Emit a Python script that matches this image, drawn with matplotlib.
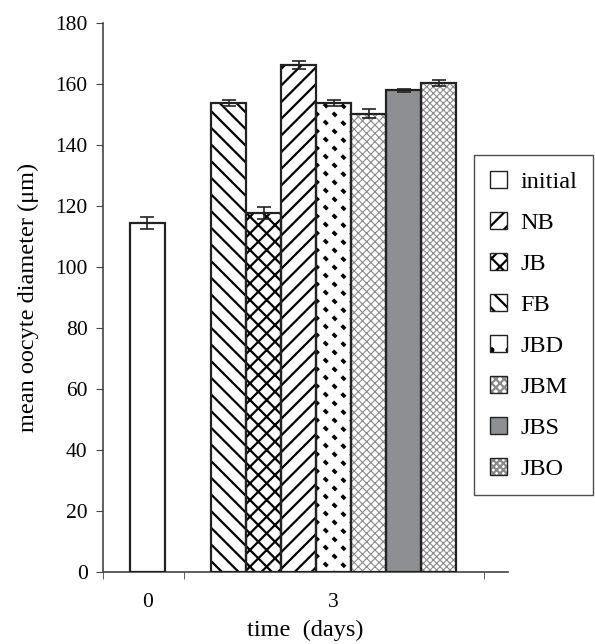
import matplotlib
matplotlib.use("Agg")
from matplotlib import pyplot as plt
from matplotlib.patches import Patch
import numpy as np

plt.rcParams['font.family'] = ['Liberation Serif', 'DejaVu Serif']
plt.rcParams['hatch.linewidth'] = 1.6
plt.rcParams['lines.scale_dashes'] = False

# data
labels = ['initial', 'NB', 'JB', 'FB', 'JBD', 'JBM', 'JBS', 'JBO']
days = ['0', '3', '3', '3', '3', '3', '3', '3']
means = [114.5, 153.9, 117.8, 166.2, 153.9, 150.3, 157.9, 160.2]
errors = [2.0, 1.0, 2.0, 1.4, 1.0, 1.4, 0.6, 1.0]
day_labels = ['0', '3']

# styles
bar_hatch = ['', '\\\\', 'xx', '//', '', 'xxxx', '', 'xxxxx']
leg_hatch = ['', '//', 'xx', '\\\\', '.', 'xxxx', '', 'xxxxx']
faces = ['white', 'white', 'white', 'white', 'white', 'white', '#8e8f92', 'white']
hatch_col = ['black', 'black', 'black', 'black', 'black', '#8a8a8a', 'black', '#8a8a8a']
hatch_lw = [1.6, 1.6, 1.6, 1.6, 0.8, 0.8, 1.6, 0.8]

# bar positions (width 1)
pos = [1.27] + [3.59 + i for i in range(7)]


def hatched(p, lw):
    if hasattr(p, 'set_hatch_linewidth'):
        p.set_hatch_linewidth(lw)
    return p


fig = plt.figure(figsize=(5.95, 6.44), dpi=100)
ax = fig.add_axes([103/595, 1-572/644, 405/595, 549/644])
ax.set_xlim(0, 11.57)
ax.set_ylim(0, 180)

for i in range(len(labels)):
    with plt.rc_context({'hatch.linewidth': hatch_lw[i]}):
        b = ax.bar(pos[i], means[i], width=1.0, color=faces[i], hatch=bar_hatch[i],
                   edgecolor=hatch_col[i], linewidth=0, zorder=2)
        hatched(b[0], hatch_lw[i])
    if labels[i] == 'JBD':
        # dashed diagonal pattern like the original
        ppx = 405 / 11.57
        ppy = 549 / 180
        x0, x1 = pos[i] - 0.5, pos[i] + 0.5
        xs = np.array([x0, x1])
        for c in np.arange(0, means[i] + 40, 17 / ppy):
            ys = c - (xs - x0) * ppx / ppy
            ln, = ax.plot(xs, ys, color='black', lw=2.6, linestyle=(1, (3.5, 5.5)),
                          solid_capstyle='butt', dash_capstyle='butt', zorder=2.5)
            ln.set_clip_path(b[0])
    ax.bar(pos[i], means[i], width=1.0, fill=False, edgecolor='#222222',
           linewidth=1.6, zorder=3)
    ax.errorbar(pos[i], means[i], yerr=errors[i], color='#222222', capsize=5,
                elinewidth=1.2, capthick=1.2, zorder=4)

ax.set_xlim(0, 11.57)
ax.set_ylim(0, 180)
ax.set_yticks(range(0, 181, 20))
ax.set_xticks([pos[0], sum(pos[1:]) / 7])
ax.set_xticklabels(day_labels)
ax.set_xticks([0, 2.31, 10.89], minor=True)
ax.tick_params(axis='x', which='major', length=0, pad=15, labelsize=15.5)
ax.tick_params(axis='x', which='minor', length=5, direction='out', color='#444444')
ax.tick_params(axis='y', length=5, direction='out', labelsize=15.5, color='#444444', pad=6)
for s in ['top', 'right']:
    ax.spines[s].set_visible(False)
for s in ['left', 'bottom']:
    ax.spines[s].set_color('#444444')
    ax.spines[s].set_linewidth(1.2)

ax.set_ylabel('mean oocyte diameter (\u03bcm)', fontsize=17.5, labelpad=12)
ax.set_xlabel('time  (days)', fontsize=17.5, labelpad=6)

handles = []
for i in range(len(labels)):
    with plt.rc_context({'hatch.linewidth': min(hatch_lw[i], 1.4)}):
        inner = hatched(Patch(facecolor=faces[i], hatch=leg_hatch[i], edgecolor=hatch_col[i],
                              linewidth=0), min(hatch_lw[i], 1.4))
    outer = Patch(fill=False, edgecolor='#222222', linewidth=1.0)
    handles.append((inner, outer))
leg = fig.legend(handles=handles, labels=labels, loc='upper left',
                 bbox_to_anchor=(474/595, 1-155/644),
                 fontsize=17.5, frameon=True, fancybox=False, edgecolor='#222222',
                 handlelength=0.7, handleheight=0.7, labelspacing=0.78,
                 borderpad=0.65, handletextpad=0.55, borderaxespad=0)
leg.get_frame().set_linewidth(1.0)

fig.savefig('out.png', dpi=100)
